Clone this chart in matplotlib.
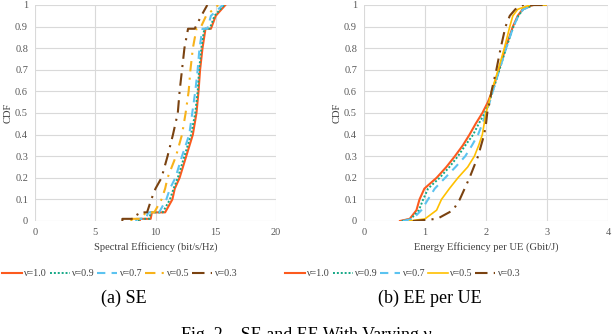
import matplotlib
matplotlib.use("Agg")
import matplotlib.pyplot as plt

plt.rcParams["font.family"] = ["Liberation Serif", "DejaVu Serif"]

LABELS = ["ν=1.0", "ν=0.9", "ν=0.7", "ν=0.5", "ν=0.3"]

# SE: spectral efficiency (bit/s/Hz) at each CDF level
SE_CDF = [0, 0.01, 0.01, 0.04, 0.04, 0.1, 0.15, 0.2, 0.3, 0.4, 0.5, 0.6, 0.7, 0.8, 0.89, 0.89, 0.95, 1.0]
SE_10 = [8.7, 8.7, 9.6, 9.7, 10.8, 11.4, 11.6, 12.0, 12.55, 13.1, 13.4, 13.57, 13.7, 13.9, 14.15, 14.6, 15.0, 15.8]
SE_09 = [8.6, 8.6, 9.5, 9.6, 10.6, 11.2, 11.5, 11.85, 12.4, 12.95, 13.3, 13.5, 13.62, 13.8, 14.05, 14.5, 14.9, 15.7]
SE_07 = [8.4, 8.4, 9.2, 9.4, 10.3, 10.9, 11.2, 11.65, 12.2, 12.8, 13.05, 13.3, 13.5, 13.65, 13.9, 14.3, 14.6, 15.6]
SE_05 = [8.0, 8.0, 8.8, 9.2, 9.9, 10.5, 10.8, 11.0, 11.7, 12.2, 12.5, 12.75, 12.9, 13.1, 13.4, 13.7, 14.2, 15.2]
SE_03 = [7.25, 7.25, 8.3, 8.6, 9.3, 9.65, 10.0, 10.5, 11.0, 11.45, 11.85, 12.0, 12.2, 12.4, 12.7, 13.25, 13.8, 14.3]

# EE per UE (Gbit/J) at each CDF level
EE_CDF = [0, 0.01, 0.05, 0.1, 0.15, 0.2, 0.25, 0.3, 0.35, 0.4, 0.45, 0.5, 0.55, 0.6, 0.7, 0.8, 0.9, 0.95, 0.98, 1.0, 1.0]
EE_10 = [0.59, 0.75, 0.86, 0.91, 0.99, 1.19, 1.35, 1.49, 1.62, 1.73, 1.83, 1.94, 2.03, 2.1, 2.21, 2.32, 2.44, 2.52, 2.6, 2.77, 2.98]
EE_09 = [0.62, 0.77, 0.9, 0.97, 1.05, 1.24, 1.4, 1.54, 1.66, 1.79, 1.88, 1.98, 2.05, 2.11, 2.22, 2.33, 2.45, 2.53, 2.61, 2.78, 2.98]
EE_07 = [0.64, 0.8, 0.94, 1.05, 1.16, 1.33, 1.5, 1.66, 1.77, 1.87, 1.94, 2.0, 2.06, 2.11, 2.22, 2.33, 2.45, 2.53, 2.61, 2.78, 2.98]
EE_05 = [0.75, 1.0, 1.19, 1.27, 1.4, 1.54, 1.7, 1.81, 1.88, 1.94, 1.97, 2.0, 2.05, 2.09, 2.2, 2.3, 2.39, 2.44, 2.52, 2.72, 2.98]
EE_03 = [0.8, 1.2, 1.46, 1.57, 1.65, 1.73, 1.8, 1.87, 1.92, 1.97, 2.0, 2.02, 2.06, 2.09, 2.17, 2.24, 2.32, 2.39, 2.48, 2.61, 2.98]

RED, GREEN, BLUE, YELLOW, BROWN = "#FC5A1E", "#15A886", "#5BC3F0", "#FFC000", "#7A4210"

SE_STYLES = [
    dict(color=RED, lw=1.5, ls="-"),
    dict(color=GREEN, lw=1.4, ls=(0, (1, 1))),
    dict(color=BLUE, lw=1.5, ls=(0, (4, 3))),
    dict(color="#F7B21A", lw=1.5, ls=(0, (5, 3, 1, 3))),
    dict(color=BROWN, lw=1.5, ls=(0, (6, 3, 1, 3))),
]
EE_STYLES = [
    dict(color=RED, lw=1.5, ls="-"),
    dict(color=GREEN, lw=1.4, ls=(0, (1, 1))),
    dict(color=BLUE, lw=1.5, ls=(0, (4, 3))),
    dict(color=YELLOW, lw=1.2, ls="-"),
    dict(color=BROWN, lw=1.5, ls=(0, (6, 3, 1, 3))),
]

fig = plt.figure(figsize=(6.12, 3.34), dpi=100)
ax1 = fig.add_axes([35 / 612, 1 - 221 / 334, 241 / 612, 216 / 334])
ax2 = fig.add_axes([364 / 612, 1 - 221 / 334, 244 / 612, 216 / 334])


def style_axes(ax, xmax, xstep, xlabel):
    ax.set_xlim(0, xmax)
    ax.set_ylim(0, 1)
    ax.set_xticks(range(0, xmax + 1, xstep))
    ax.set_yticks([i / 10 for i in range(11)])
    ax.set_yticklabels(["0"] + [f"0.{i}" for i in range(1, 10)] + ["1"])
    ax.grid(True, color="#D9D9D9", lw=0.8)
    ax.set_axisbelow(True)
    for s in ax.spines.values():
        s.set_visible(False)
    ax.tick_params(length=0, labelsize=7.5, colors="#595959", pad=5)
    ax.set_xlabel(xlabel, fontsize=7.6, color="#404040", labelpad=4)
    ax.set_ylabel("CDF", fontsize=7.6, color="#404040", labelpad=2)


style_axes(ax1, 20, 5, "Spectral Efficiency (bit/s/Hz)")
style_axes(ax2, 4, 1, "Energy Efficiency per UE (Gbit/J)")

for xs, st, lab in zip([SE_10, SE_09, SE_07, SE_05, SE_03], SE_STYLES, LABELS):
    ax1.plot(xs, SE_CDF, label=lab, **st)
for xs, st, lab in zip([EE_10, EE_09, EE_07, EE_05, EE_03], EE_STYLES, LABELS):
    ax2.plot(xs, EE_CDF, label=lab, **st)

for ax, cx in ((ax1, 119 / 612), (ax2, 402 / 612)):
    leg = ax.legend(loc="center", bbox_to_anchor=(cx, 1 - 274 / 334), bbox_transform=fig.transFigure,
                    ncol=5, frameon=False, fontsize=7.2, handlelength=2.0,
                    handletextpad=0.15, columnspacing=0.35, borderaxespad=0, borderpad=0)
    for t in leg.get_texts():
        t.set_color("#404040")

fig.text(124 / 612, 1 - 298 / 334, "(a) SE", fontsize=13, ha="center", va="center")
fig.text(430 / 612, 1 - 298 / 334, "(b) EE per UE", fontsize=13, ha="center", va="center")
fig.text(0.5, 1 - 336 / 334, "Fig. 2.   SE and EE With Varying ν", fontsize=13, ha="center", va="center")

fig.savefig("out.png", dpi=100)
